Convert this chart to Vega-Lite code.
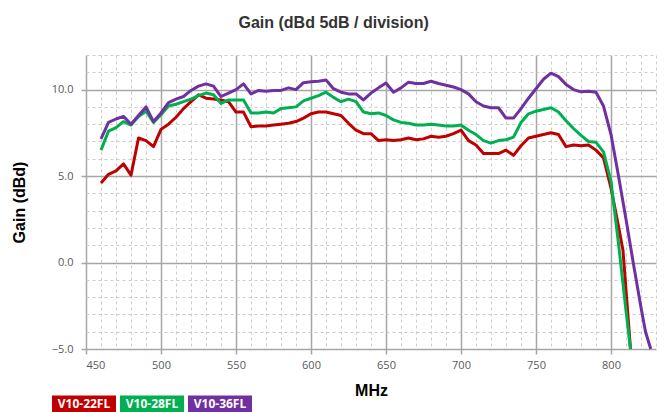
{
  "$schema": "https://vega.github.io/schema/vega-lite/v6.json",
  "width": 570,
  "height": 294,
  "autosize": {"type": "none"},
  "padding": {"left": 86, "top": 55, "right": 16, "bottom": 63},
  "background": "white",
  "title": {"text": "Gain (dBd 5dB / division)", "fontSize": 16, "fontWeight": "bold", "font": "Liberation Sans", "color": "#333333", "anchor": "middle", "frame": "bounds", "offset": 18},
  "config": {"view": {"stroke": null}},
  "data": {"values": [
    {"s":"V10-22FL","f":460,"g":4.6},{"s":"V10-22FL","f":465,"g":5.1},{"s":"V10-22FL","f":470,"g":5.3},{"s":"V10-22FL","f":475,"g":5.7},{"s":"V10-22FL","f":480,"g":5.05},{"s":"V10-22FL","f":485,"g":7.2},{"s":"V10-22FL","f":490,"g":7.05},{"s":"V10-22FL","f":495,"g":6.7},{"s":"V10-22FL","f":500,"g":7.7},{"s":"V10-22FL","f":505,"g":8.0},{"s":"V10-22FL","f":510,"g":8.4},{"s":"V10-22FL","f":515,"g":8.9},{"s":"V10-22FL","f":520,"g":9.3},{"s":"V10-22FL","f":525,"g":9.7},{"s":"V10-22FL","f":530,"g":9.5},{"s":"V10-22FL","f":535,"g":9.45},{"s":"V10-22FL","f":540,"g":9.4},{"s":"V10-22FL","f":545,"g":9.3},{"s":"V10-22FL","f":550,"g":8.7},{"s":"V10-22FL","f":555,"g":8.7},{"s":"V10-22FL","f":560,"g":7.85},{"s":"V10-22FL","f":565,"g":7.9},{"s":"V10-22FL","f":570,"g":7.9},{"s":"V10-22FL","f":575,"g":7.95},{"s":"V10-22FL","f":580,"g":8.0},{"s":"V10-22FL","f":585,"g":8.05},{"s":"V10-22FL","f":590,"g":8.15},{"s":"V10-22FL","f":595,"g":8.35},{"s":"V10-22FL","f":600,"g":8.6},{"s":"V10-22FL","f":605,"g":8.7},{"s":"V10-22FL","f":610,"g":8.7},{"s":"V10-22FL","f":615,"g":8.6},{"s":"V10-22FL","f":620,"g":8.5},{"s":"V10-22FL","f":625,"g":8.05},{"s":"V10-22FL","f":630,"g":7.65},{"s":"V10-22FL","f":635,"g":7.45},{"s":"V10-22FL","f":640,"g":7.45},{"s":"V10-22FL","f":645,"g":7.05},{"s":"V10-22FL","f":650,"g":7.1},{"s":"V10-22FL","f":655,"g":7.05},{"s":"V10-22FL","f":660,"g":7.1},{"s":"V10-22FL","f":665,"g":7.2},{"s":"V10-22FL","f":670,"g":7.1},{"s":"V10-22FL","f":675,"g":7.15},{"s":"V10-22FL","f":680,"g":7.3},{"s":"V10-22FL","f":685,"g":7.25},{"s":"V10-22FL","f":690,"g":7.3},{"s":"V10-22FL","f":695,"g":7.45},{"s":"V10-22FL","f":700,"g":7.65},{"s":"V10-22FL","f":705,"g":7.05},{"s":"V10-22FL","f":710,"g":6.8},{"s":"V10-22FL","f":715,"g":6.3},{"s":"V10-22FL","f":720,"g":6.3},{"s":"V10-22FL","f":725,"g":6.3},{"s":"V10-22FL","f":730,"g":6.5},{"s":"V10-22FL","f":735,"g":6.2},{"s":"V10-22FL","f":740,"g":6.75},{"s":"V10-22FL","f":745,"g":7.2},{"s":"V10-22FL","f":750,"g":7.3},{"s":"V10-22FL","f":755,"g":7.4},{"s":"V10-22FL","f":760,"g":7.5},{"s":"V10-22FL","f":765,"g":7.4},{"s":"V10-22FL","f":770,"g":6.7},{"s":"V10-22FL","f":775,"g":6.8},{"s":"V10-22FL","f":780,"g":6.75},{"s":"V10-22FL","f":785,"g":6.8},{"s":"V10-22FL","f":790,"g":6.5},{"s":"V10-22FL","f":795,"g":6.05},{"s":"V10-22FL","f":800,"g":4.3},{"s":"V10-22FL","f":805,"g":2.1},{"s":"V10-22FL","f":808,"g":0.7},{"s":"V10-22FL","f":813,"g":-5.0},
    {"s":"V10-28FL","f":460,"g":6.5},{"s":"V10-28FL","f":465,"g":7.6},{"s":"V10-28FL","f":470,"g":7.8},{"s":"V10-28FL","f":475,"g":8.15},{"s":"V10-28FL","f":480,"g":7.95},{"s":"V10-28FL","f":485,"g":8.45},{"s":"V10-28FL","f":490,"g":8.75},{"s":"V10-28FL","f":495,"g":8.1},{"s":"V10-28FL","f":500,"g":8.55},{"s":"V10-28FL","f":505,"g":9.05},{"s":"V10-28FL","f":510,"g":9.15},{"s":"V10-28FL","f":515,"g":9.3},{"s":"V10-28FL","f":520,"g":9.45},{"s":"V10-28FL","f":525,"g":9.65},{"s":"V10-28FL","f":530,"g":9.8},{"s":"V10-28FL","f":535,"g":9.7},{"s":"V10-28FL","f":540,"g":9.2},{"s":"V10-28FL","f":545,"g":9.4},{"s":"V10-28FL","f":550,"g":9.4},{"s":"V10-28FL","f":555,"g":9.4},{"s":"V10-28FL","f":560,"g":8.65},{"s":"V10-28FL","f":565,"g":8.65},{"s":"V10-28FL","f":570,"g":8.7},{"s":"V10-28FL","f":575,"g":8.65},{"s":"V10-28FL","f":580,"g":8.9},{"s":"V10-28FL","f":585,"g":8.95},{"s":"V10-28FL","f":590,"g":9.0},{"s":"V10-28FL","f":595,"g":9.35},{"s":"V10-28FL","f":600,"g":9.5},{"s":"V10-28FL","f":605,"g":9.65},{"s":"V10-28FL","f":610,"g":9.85},{"s":"V10-28FL","f":615,"g":9.55},{"s":"V10-28FL","f":620,"g":9.3},{"s":"V10-28FL","f":625,"g":9.45},{"s":"V10-28FL","f":630,"g":9.3},{"s":"V10-28FL","f":635,"g":8.7},{"s":"V10-28FL","f":640,"g":8.6},{"s":"V10-28FL","f":645,"g":8.65},{"s":"V10-28FL","f":650,"g":8.5},{"s":"V10-28FL","f":655,"g":8.25},{"s":"V10-28FL","f":660,"g":8.1},{"s":"V10-28FL","f":665,"g":8.05},{"s":"V10-28FL","f":670,"g":7.95},{"s":"V10-28FL","f":675,"g":7.95},{"s":"V10-28FL","f":680,"g":8.0},{"s":"V10-28FL","f":685,"g":7.95},{"s":"V10-28FL","f":690,"g":7.9},{"s":"V10-28FL","f":695,"g":7.9},{"s":"V10-28FL","f":700,"g":7.95},{"s":"V10-28FL","f":705,"g":7.65},{"s":"V10-28FL","f":710,"g":7.4},{"s":"V10-28FL","f":715,"g":7.05},{"s":"V10-28FL","f":720,"g":6.9},{"s":"V10-28FL","f":725,"g":7.05},{"s":"V10-28FL","f":730,"g":7.1},{"s":"V10-28FL","f":735,"g":7.25},{"s":"V10-28FL","f":740,"g":8.1},{"s":"V10-28FL","f":745,"g":8.6},{"s":"V10-28FL","f":750,"g":8.75},{"s":"V10-28FL","f":755,"g":8.85},{"s":"V10-28FL","f":760,"g":8.95},{"s":"V10-28FL","f":765,"g":8.7},{"s":"V10-28FL","f":770,"g":8.2},{"s":"V10-28FL","f":775,"g":7.75},{"s":"V10-28FL","f":780,"g":7.35},{"s":"V10-28FL","f":785,"g":7.0},{"s":"V10-28FL","f":790,"g":6.95},{"s":"V10-28FL","f":795,"g":6.4},{"s":"V10-28FL","f":800,"g":4.7},{"s":"V10-28FL","f":805,"g":1.1},{"s":"V10-28FL","f":810,"g":-2.8},{"s":"V10-28FL","f":813,"g":-5.0},
    {"s":"V10-36FL","f":460,"g":7.15},{"s":"V10-36FL","f":465,"g":8.1},{"s":"V10-36FL","f":470,"g":8.3},{"s":"V10-36FL","f":475,"g":8.45},{"s":"V10-36FL","f":480,"g":8.0},{"s":"V10-36FL","f":485,"g":8.5},{"s":"V10-36FL","f":490,"g":9.0},{"s":"V10-36FL","f":495,"g":8.15},{"s":"V10-36FL","f":500,"g":8.65},{"s":"V10-36FL","f":505,"g":9.25},{"s":"V10-36FL","f":510,"g":9.45},{"s":"V10-36FL","f":515,"g":9.6},{"s":"V10-36FL","f":520,"g":9.95},{"s":"V10-36FL","f":525,"g":10.2},{"s":"V10-36FL","f":530,"g":10.33},{"s":"V10-36FL","f":535,"g":10.2},{"s":"V10-36FL","f":540,"g":9.6},{"s":"V10-36FL","f":545,"g":9.8},{"s":"V10-36FL","f":550,"g":10.0},{"s":"V10-36FL","f":555,"g":10.33},{"s":"V10-36FL","f":560,"g":9.75},{"s":"V10-36FL","f":565,"g":9.95},{"s":"V10-36FL","f":570,"g":9.9},{"s":"V10-36FL","f":575,"g":9.95},{"s":"V10-36FL","f":580,"g":9.95},{"s":"V10-36FL","f":585,"g":10.1},{"s":"V10-36FL","f":590,"g":10.0},{"s":"V10-36FL","f":595,"g":10.4},{"s":"V10-36FL","f":600,"g":10.45},{"s":"V10-36FL","f":605,"g":10.48},{"s":"V10-36FL","f":610,"g":10.55},{"s":"V10-36FL","f":615,"g":10.05},{"s":"V10-36FL","f":620,"g":9.85},{"s":"V10-36FL","f":625,"g":9.75},{"s":"V10-36FL","f":630,"g":9.75},{"s":"V10-36FL","f":635,"g":9.4},{"s":"V10-36FL","f":640,"g":9.8},{"s":"V10-36FL","f":645,"g":10.1},{"s":"V10-36FL","f":650,"g":10.38},{"s":"V10-36FL","f":655,"g":9.85},{"s":"V10-36FL","f":660,"g":10.1},{"s":"V10-36FL","f":665,"g":10.43},{"s":"V10-36FL","f":670,"g":10.35},{"s":"V10-36FL","f":675,"g":10.35},{"s":"V10-36FL","f":680,"g":10.48},{"s":"V10-36FL","f":685,"g":10.35},{"s":"V10-36FL","f":690,"g":10.25},{"s":"V10-36FL","f":695,"g":10.15},{"s":"V10-36FL","f":700,"g":10.0},{"s":"V10-36FL","f":705,"g":9.75},{"s":"V10-36FL","f":710,"g":9.3},{"s":"V10-36FL","f":715,"g":9.05},{"s":"V10-36FL","f":720,"g":8.95},{"s":"V10-36FL","f":725,"g":8.95},{"s":"V10-36FL","f":730,"g":8.35},{"s":"V10-36FL","f":735,"g":8.35},{"s":"V10-36FL","f":740,"g":8.9},{"s":"V10-36FL","f":745,"g":9.5},{"s":"V10-36FL","f":750,"g":10.05},{"s":"V10-36FL","f":755,"g":10.6},{"s":"V10-36FL","f":760,"g":10.95},{"s":"V10-36FL","f":765,"g":10.75},{"s":"V10-36FL","f":770,"g":10.3},{"s":"V10-36FL","f":775,"g":10.0},{"s":"V10-36FL","f":780,"g":9.87},{"s":"V10-36FL","f":785,"g":9.9},{"s":"V10-36FL","f":790,"g":9.85},{"s":"V10-36FL","f":795,"g":9.05},{"s":"V10-36FL","f":800,"g":7.4},{"s":"V10-36FL","f":805,"g":5.0},{"s":"V10-36FL","f":810,"g":2.5},{"s":"V10-36FL","f":815,"g":-0.1},{"s":"V10-36FL","f":820,"g":-2.6},{"s":"V10-36FL","f":823,"g":-4.0},{"s":"V10-36FL","f":826.5,"g":-5.0}
  ]},
  "mark": {"type": "line", "strokeWidth": 3, "strokeJoin": "round"},
  "encoding": {
    "x": {
      "field": "f", "type": "quantitative",
      "scale": {"domain": [450, 830], "nice": false, "zero": false},
      "axis": {
        "title": "MHz",
        "values": [450,460,470,480,490,500,510,520,530,540,550,560,570,580,590,600,610,620,630,640,650,660,670,680,690,700,710,720,730,740,750,760,770,780,790,800,810,820,830],
        "grid": true,
        "gridDash": {"condition": {"test": "datum.value % 50 === 0", "value": []}, "value": [3, 3]},
        "gridColor": {"condition": {"test": "datum.value % 50 === 0", "value": "#a6a6a6"}, "value": "#cccccc"},
        "gridWidth": {"condition": {"test": "datum.value % 50 === 0", "value": 1.5}, "value": 1},
        "tickOpacity": {"condition": {"test": "datum.value % 50 === 0", "value": 1}, "value": 0},
        "tickColor": "#a6a6a6", "tickSize": 5, "tickWidth": 1.5,
        "domain": false,
        "labelExpr": "datum.value % 50 === 0 ? datum.label : ''",
        "labelOverlap": false, "labelBound": false,
        "labelPadding": 5, "labelFont": "Open Sans", "labelFontSize": 11, "labelColor": "#595959",
        "titleFont": "Liberation Sans", "titleFontSize": 16, "titleFontWeight": "bold", "titleColor": "#000000", "titlePadding": 12
      }
    },
    "y": {
      "field": "g", "type": "quantitative",
      "scale": {"domain": [-5, 12], "nice": false, "zero": false},
      "axis": {
        "title": "Gain (dBd)",
        "values": [-5,-4,-3,-2,-1,0,1,2,3,4,5,6,7,8,9,10,11,12],
        "grid": true,
        "gridDash": {"condition": {"test": "datum.value % 5 === 0", "value": []}, "value": [3, 3]},
        "gridColor": {"condition": {"test": "datum.value % 5 === 0", "value": "#a6a6a6"}, "value": "#cccccc"},
        "gridWidth": {"condition": {"test": "datum.value % 5 === 0", "value": 1.5}, "value": 1},
        "tickOpacity": {"condition": {"test": "datum.value % 5 === 0", "value": 1}, "value": 0},
        "tickColor": "#a6a6a6", "tickSize": 5, "tickWidth": 1.5,
        "domain": false,
        "labelExpr": "datum.value % 5 === 0 ? format(datum.value, '.1f') : ''",
        "labelOverlap": false, "labelBound": false,
        "labelPadding": 8, "labelFont": "Open Sans", "labelFontSize": 11, "labelColor": "#595959",
        "titleFont": "Liberation Sans", "titleFontSize": 16, "titleFontWeight": "bold", "titleColor": "#000000", "titlePadding": 24
      }
    },
    "color": {
      "field": "s", "type": "nominal",
      "scale": {"domain": ["V10-22FL", "V10-28FL", "V10-36FL"], "range": ["#C00000", "#00B050", "#7030A0"]},
      "legend": {
        "orient": "none", "legendX": -34, "legendY": 317, "direction": "horizontal", "title": null,
        "symbolType": "M-1,-0.27H1V0.27H-1Z", "symbolSize": 4096, "symbolStrokeWidth": 0,
        "labelOffset": -32, "labelAlign": "center", "labelColor": "white",
        "labelFont": "Open Sans", "labelFontWeight": "bold", "labelFontSize": 12,
        "columnPadding": 4, "padding": 0,
        "encode": {"symbols": {"update": {"fill": {"scale": "color", "field": "value"}, "opacity": {"value": 1}}}}
      }
    }
  }
}
